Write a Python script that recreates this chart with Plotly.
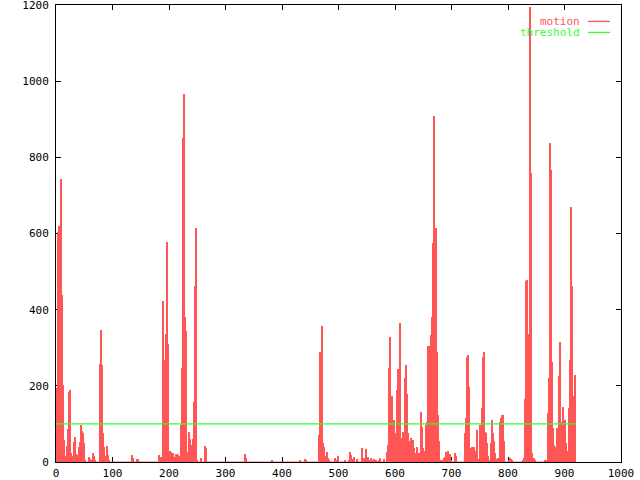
import plotly.graph_objects as go

# ---- data (frame index, motion value) ----
frames = [
    2, 4, 6, 8, 10, 12, 13, 15, 17, 19, 21, 23, 24, 26, 28, 30, 31, 33, 35, 37, 39, 40, 42, 44, 46, 47, 49, 51,
    59, 60, 62, 66, 67, 69, 78, 79, 81, 83, 85, 87, 90, 92, 94,
    135, 137, 144, 146, 183, 185, 187, 190, 192, 193, 195, 197, 199, 200, 202, 204, 206, 207, 209, 211,
    213, 214, 216, 218, 221, 223, 225, 227, 228, 230, 232, 234, 236, 237, 239, 241, 243, 245, 246, 248, 250,
    256, 257, 263, 266, 334, 336, 383, 432, 440, 442,
    465, 466, 468, 470, 472, 474, 475, 477, 479, 480, 482, 484, 493, 495, 500, 512, 518, 521, 523, 525, 527,
    532, 542, 544, 546, 548, 550, 551, 553, 555, 557, 558, 560, 562, 567, 571, 574, 580, 586, 588,
    590, 592, 594, 595, 597, 599, 601, 602, 604, 606, 608, 609, 611, 613, 615, 616, 618, 620, 622, 623, 625,
    627, 629, 630, 632, 634, 636, 637, 639, 641, 643, 645, 646, 648, 650, 652, 653, 655, 657, 659, 660, 662,
    664, 666, 667, 669, 671, 673, 674, 676, 678, 680, 683, 687, 689, 690, 692, 694, 696, 697, 699, 706, 708,
    724, 726, 728, 729, 731, 733, 735, 736, 738, 740, 742, 744, 745, 747, 751, 753, 754, 756, 758, 760, 761,
    763, 765, 767, 770, 772, 774, 775, 777, 779, 781, 783, 786, 788, 790, 791, 793, 802, 804, 806, 807,
    827, 829, 830, 832, 834, 836, 837, 839, 841, 843, 845, 846, 848, 866, 867,
    871, 873, 874, 876, 878, 880, 882, 885, 887, 889, 890, 892, 894, 896, 897, 899, 901, 903, 905, 906,
    908, 910, 912, 913, 915, 917, 919,
]
motion = [
    195, 605, 619, 743, 438, 202, 152, 58, 15, 43, 87, 185, 189, 23, 4, 15, 53, 65, 21, 6, 19, 40, 53, 97, 82, 75, 49, 3,
    12, 8, 4, 23, 16, 5, 257, 346, 255, 75, 40, 15, 43, 19, 4,
    19, 10, 9, 9, 19, 12, 12, 422, 268, 139, 336, 577, 310, 19, 30, 26, 22, 24, 14, 3,
    22, 20, 18, 16, 97, 246, 850, 966, 381, 344, 3, 25, 80, 60, 45, 35, 60, 158, 463, 614, 3,
    10, 10, 42, 38, 22, 10, 4, 6, 9, 6,
    3, 71, 290, 357, 50, 40, 13, 15, 25, 20, 10, 5, 10, 6, 16, 6, 6, 27, 19, 8, 13,
    8, 38, 6, 10, 34, 8, 6, 13, 3, 10, 8, 6, 8, 4, 4, 10, 8, 25, 45,
    246, 327, 173, 69, 80, 110, 52, 75, 189, 244, 64, 366, 64, 64, 79, 76, 220, 255, 179, 76, 54,
    6, 63, 54, 58, 37, 24, 24, 40, 24, 24, 8, 132, 93, 37, 15, 28, 97, 106, 304, 304, 198,
    333, 380, 574, 908, 539, 615, 290, 124, 54, 6, 6, 10, 14, 25, 10, 30, 20, 20, 6, 24, 17,
    76, 115, 277, 280, 198, 37, 32, 40, 28, 40, 30, 9, 84, 9, 97, 60, 143, 276, 288, 80, 76,
    50, 15, 6, 50, 109, 76, 54, 24, 6, 9, 10, 106, 115, 124, 124, 54, 6, 10, 8, 6,
    6, 10, 165, 475, 477, 10, 336, 1195, 760, 24, 8, 10, 6, 6, 4,
    128, 220, 837, 768, 263, 89, 45, 40, 89, 84, 227, 316, 80, 106, 144, 109, 109, 50, 28, 3,
    141, 268, 670, 462, 150, 173, 228,
]
threshold = 100
series_names = ["motion", "threshold"]

x_ticks = [0, 100, 200, 300, 400, 500, 600, 700, 800, 900, 1000]
y_ticks = [0, 200, 400, 600, 800, 1000, 1200]

RED = "#ff5555"
GREEN = "#33ff33"
FONT = "DejaVu Sans Mono"

fig = go.Figure()

# impulses
fig.add_trace(go.Bar(
    x=frames, y=motion, width=1.8, marker=dict(color=RED, line=dict(width=0)),
    name=series_names[0], showlegend=False,
))
# baseline of the impulses (zero-height frames)
fig.add_trace(go.Scatter(
    x=[0, frames[-1]], y=[0, 0], mode="lines", line=dict(color=RED, width=1),
    showlegend=False, hoverinfo="skip", cliponaxis=False,
))
# threshold
fig.add_trace(go.Scatter(
    x=[0, frames[-1]], y=[threshold, threshold], mode="lines",
    line=dict(color=GREEN, width=1.3), name=series_names[1], showlegend=False,
))

axis_common = dict(
    showgrid=False, zeroline=False, showline=True, linecolor="black", linewidth=1,
    mirror="ticks", ticks="inside", ticklen=5, tickwidth=1, tickcolor="black",
    tickfont=dict(family=FONT, size=11, color="black"), layer="below traces",
    automargin=False, ticklabeloverflow="allow",
)

fig.update_layout(
    width=640, height=480,
    margin=dict(l=56, r=19, t=5, b=18, autoexpand=False),
    paper_bgcolor="white", plot_bgcolor="white",
    showlegend=False, bargap=0,
    xaxis=dict(range=[0, 1000], tickvals=x_ticks, ticktext=[str(v) for v in x_ticks],
               ticklabelstandoff=1, **axis_common),
    yaxis=dict(range=[0, 1200], tickvals=y_ticks, ticktext=[str(v) for v in y_ticks],
               ticklabelstandoff=4, **axis_common),
)

# hand-made gnuplot style key (text then sample line)
key_rows = [(series_names[0], RED, 0.964), (series_names[1], GREEN, 0.940)]
for name, col, yy in key_rows:
    fig.add_annotation(
        xref="paper", yref="paper", x=0.929, y=yy, text=name, showarrow=False,
        xanchor="right", yanchor="middle", borderpad=0,
        font=dict(family=FONT, size=11, color=col),
    )
    fig.add_shape(
        type="line", xref="paper", yref="paper", x0=0.9416, x1=0.9805, y0=yy, y1=yy,
        line=dict(color=col, width=1.3),
    )

post = "document.body.style.margin='0';document.body.style.overflow='hidden';"
fig.write_html("out.html", config={"displayModeBar": False}, post_script=post)
